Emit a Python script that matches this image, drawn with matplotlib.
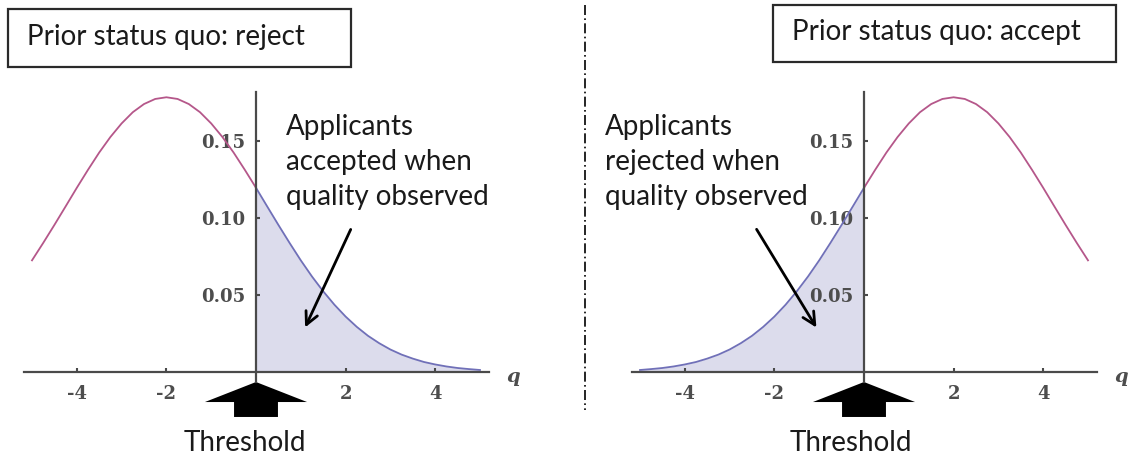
import matplotlib
matplotlib.use("Agg")
import matplotlib.pyplot as plt
from matplotlib.patches import FancyArrow, Rectangle
from matplotlib.lines import Line2D

# quality grid and density
q = [-5.0, -4.75, -4.5, -4.25, -4.0, -3.75, -3.5, -3.25, -3.0, -2.75,
     -2.5, -2.25, -2.0, -1.75, -1.5, -1.25, -1.0, -0.75, -0.5, -0.25,
     0.0, 0.25, 0.5, 0.75, 1.0, 1.25, 1.5, 1.75, 2.0, 2.25,
     2.5, 2.75, 3.0, 3.25, 3.5, 3.75, 4.0, 4.25, 4.5, 4.75, 5.0]

density_reject = [0.0725, 0.0838, 0.0955, 0.1075, 0.1196, 0.1313, 0.1425, 0.1526, 0.1614, 0.1687,
                  0.1740, 0.1773, 0.1784, 0.1773, 0.1740, 0.1687, 0.1614, 0.1526, 0.1425, 0.1313,
                  0.1196, 0.1075, 0.0955, 0.0838, 0.0725, 0.0620, 0.0524, 0.0437, 0.0360, 0.0293,
                  0.0235, 0.0187, 0.0146, 0.0113, 0.0087, 0.0065, 0.0049, 0.0036, 0.0026, 0.0019,
                  0.0013]

density_accept = [0.0013, 0.0019, 0.0026, 0.0036, 0.0049, 0.0065, 0.0087, 0.0113, 0.0146, 0.0187,
                  0.0235, 0.0293, 0.0360, 0.0437, 0.0524, 0.0620, 0.0725, 0.0838, 0.0955, 0.1075,
                  0.1196, 0.1313, 0.1425, 0.1526, 0.1614, 0.1687, 0.1740, 0.1773, 0.1784, 0.1773,
                  0.1740, 0.1687, 0.1614, 0.1526, 0.1425, 0.1313, 0.1196, 0.1075, 0.0955, 0.0838,
                  0.0725]

x_ticks = [-4, -2, 2, 4]
x_tick_labels = ["-4", "-2", "2", "4"]
y_ticks = [0.05, 0.10, 0.15]
y_tick_labels = ["0.05", "0.10", "0.15"]
threshold = 0.0

titles = ["Prior status quo: reject", "Prior status quo: accept"]
notes = ["Applicants\naccepted when\nquality observed",
         "Applicants\nrejected when\nquality observed"]

W, H = 1128, 461
PX_X = 44.8      # pixels per unit of q
PX_Y = 1540.0    # pixels per unit of density
AXIS_ROW = 372   # pixel row of the q axis

PINK = "#b5578a"
BLUE = "#7070b8"
FILL = "#dcdcec"
AXC = "#4a4a4a"
TXT = "#1a1a1a"
FONT = "Lato"
FS = 20

fig = plt.figure(figsize=(W / 100, H / 100), dpi=100)


def make_axes(left_px, right_px, zero_px):
    ax = fig.add_axes([left_px / W, 0, (right_px - left_px) / W, 1])
    ax.set_xlim((left_px - zero_px) / PX_X, (right_px - zero_px) / PX_X)
    ax.set_ylim((AXIS_ROW - H) / PX_Y, AXIS_ROW / PX_Y)
    ax.patch.set_alpha(0)
    for s in ["top", "right"]:
        ax.spines[s].set_visible(False)
    ax.spines["left"].set_position(("data", 0))
    ax.spines["bottom"].set_position(("data", 0))
    for s in ["left", "bottom"]:
        ax.spines[s].set_color(AXC)
        ax.spines[s].set_linewidth(1.6)
    ax.spines["left"].set_bounds(-0.0065, 0.182)
    ax.spines["bottom"].set_bounds(-5.18, 5.21)
    ax.set_xticks(x_ticks)
    ax.set_xticklabels(x_tick_labels)
    ax.set_yticks(y_ticks)
    ax.set_yticklabels(y_tick_labels)
    ax.tick_params(direction="in", length=3, width=1.5, color=AXC,
                   labelcolor="#4d4d4d", labelsize=13)
    ax.tick_params(axis="x", pad=9)
    ax.tick_params(axis="y", pad=8)
    for lab in ax.get_xticklabels() + ax.get_yticklabels():
        lab.set_family("DejaVu Serif")
        lab.set_fontweight("bold")
    ax.text(5.75, -0.003, "q", family="DejaVu Serif", style="italic",
            fontweight="bold", fontsize=14, color="#4d4d4d", va="center", ha="center")
    return ax


def block_arrow(ax):
    ax.add_patch(FancyArrow(threshold, -0.0292, 0, 0.0227, width=0.98,
                            head_width=2.28, head_length=0.013,
                            length_includes_head=True, color="black", lw=0))


ARROW = dict(arrowstyle="->,head_length=0.9,head_width=0.45", lw=2, color="black")

# left panel: status quo reject, observed quality above threshold accepted
ax1 = make_axes(0, 560, 256)
split = q.index(threshold)
ax1.plot(q[:split + 1], density_reject[:split + 1], color=PINK, lw=1.3)
ax1.fill_between(q[split:], density_reject[split:], 0, color=FILL, lw=0)
ax1.plot(q[split:], density_reject[split:], color=BLUE, lw=1.3)
block_arrow(ax1)
ax1.text(-0.25, -0.0461, "Threshold", family=FONT, fontsize=FS, color=TXT,
         ha="center", va="center")
ax1.text(0.67, 0.1365, notes[0], family=FONT, fontsize=FS, color=TXT,
         ha="left", va="center", linespacing=1.42)
ax1.annotate("", xy=(1.07, 0.0273), xytext=(2.14, 0.0942), arrowprops=ARROW)

# right panel: status quo accept, observed quality below threshold rejected
ax2 = make_axes(560, W, 864)
ax2.fill_between(q[:split + 1], density_accept[:split + 1], 0, color=FILL, lw=0)
ax2.plot(q[:split + 1], density_accept[:split + 1], color=BLUE, lw=1.3)
ax2.plot(q[split:], density_accept[split:], color=PINK, lw=1.3)
block_arrow(ax2)
ax2.text(-0.29, -0.0461, "Threshold", family=FONT, fontsize=FS, color=TXT,
         ha="center", va="center")
ax2.text(-5.78, 0.1365, notes[1], family=FONT, fontsize=FS, color=TXT,
         ha="left", va="center", linespacing=1.42)
ax2.annotate("", xy=(-1.03, 0.0273), xytext=(-2.43, 0.0942), arrowprops=ARROW)

# title boxes (pixel positions from the reference)
for (x0, y0, x1, y1, tx, ty), title in zip([(8, 9, 351, 67, 27, 37),
                                            (773, 5, 1116, 62, 792, 32)], titles):
    fig.add_artist(Rectangle((x0 / W, 1 - y1 / H), (x1 - x0) / W, (y1 - y0) / H,
                             transform=fig.transFigure, fill=False,
                             ec="#2a2a2a", lw=1.6))
    fig.text(tx / W, 1 - ty / H, title, family=FONT, fontsize=FS, color=TXT,
             ha="left", va="center")

# dash-dot divider between the panels
fig.add_artist(Line2D([585 / W, 585 / W], [1 - 5 / H, 1 - 410 / H],
                      transform=fig.transFigure, color="black", lw=1.2,
                      linestyle=(0, (6, 2, 1, 2))))

fig.savefig("out.png", dpi=100)
